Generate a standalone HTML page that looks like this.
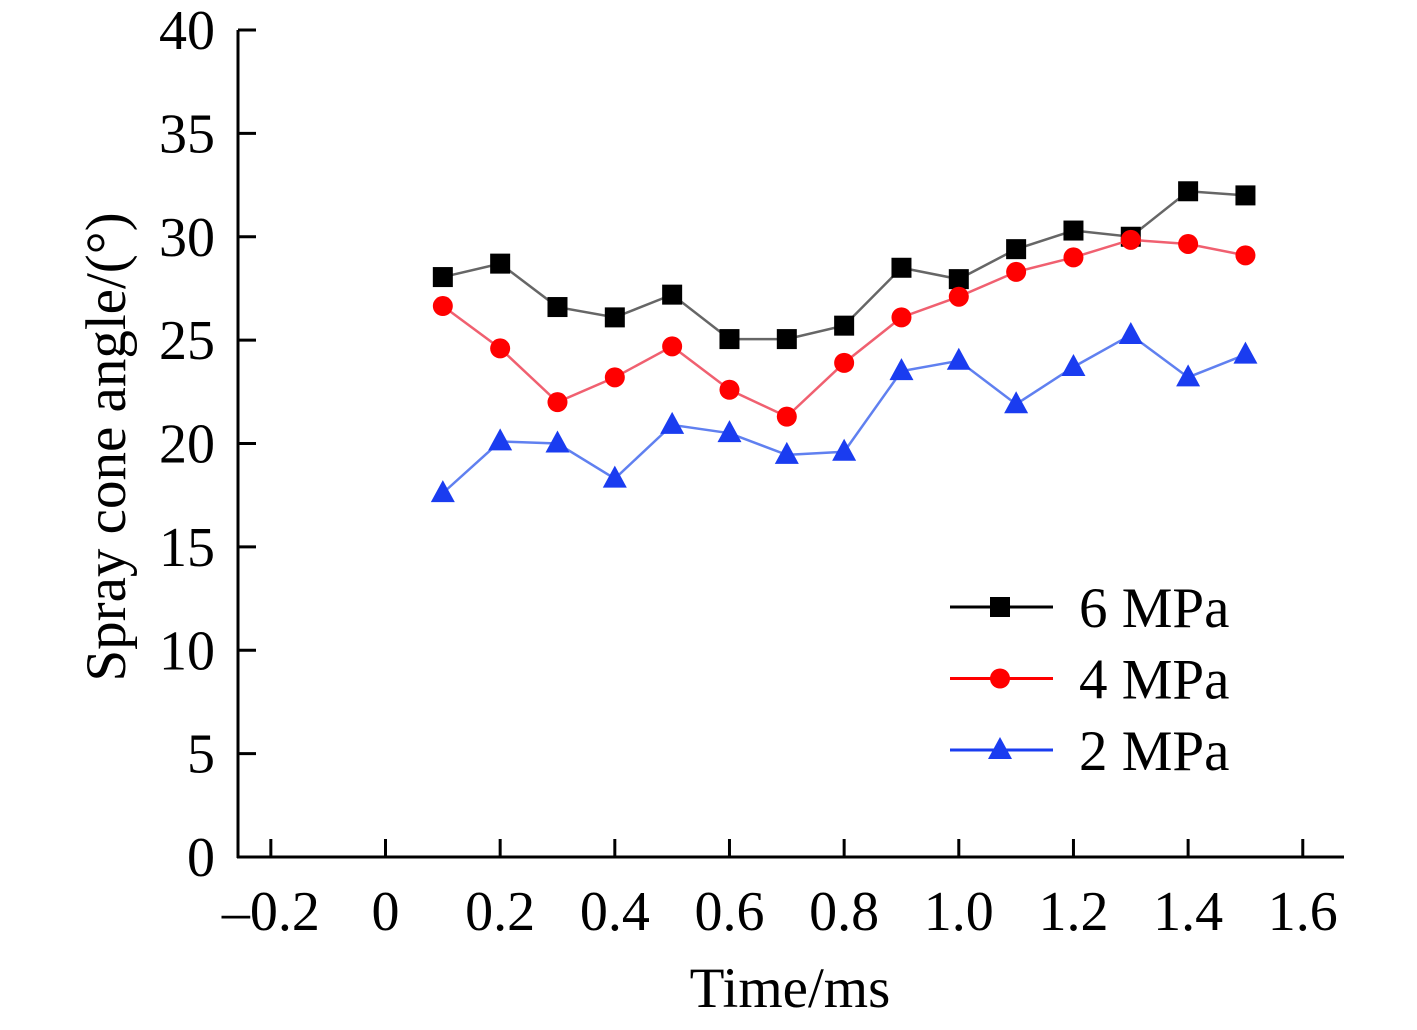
<!DOCTYPE html>
<html><head><meta charset="utf-8"><style>
body{margin:0;background:#fff}
svg text{font-family:"Liberation Serif",serif;fill:#000}
</style></head><body>
<svg id="chart" width="1417" height="1025" viewBox="0 0 1417 1025" xmlns="http://www.w3.org/2000/svg">
<g id="axes"></g>
<g id="series"></g>
<g id="legend"></g>
<text transform="translate(125,447) rotate(-90)" text-anchor="middle" font-size="57">Spray cone angle/(°)</text>
<text x="790" y="1007" text-anchor="middle" font-size="57">Time/ms</text>
</svg>
<script>
const times=[0.1,0.2,0.3,0.4,0.5,0.6,0.7,0.8,0.9,1.0,1.1,1.2,1.3,1.4,1.5];
const p6=[28.05,28.7,26.6,26.1,27.2,25.05,25.05,25.7,28.5,27.95,29.4,30.3,30.0,32.2,32.0];
const p4=[26.65,24.6,22.0,23.2,24.7,22.6,21.3,23.9,26.1,27.1,28.3,29.0,29.85,29.65,29.1];
const p2=[17.6,20.1,20.0,18.3,20.9,20.5,19.45,19.6,23.5,24.0,21.9,23.7,25.25,23.2,24.3];
const xTicks=[-0.2,0,0.2,0.4,0.6,0.8,1.0,1.2,1.4,1.6];
const xTickLabels=["\u20130.2","0","0.2","0.4","0.6","0.8","1.0","1.2","1.4","1.6"];
const yTicks=[0,5,10,15,20,25,30,35,40];
const seriesNames=["6 MPa","4 MPa","2 MPa"];

const NS="http://www.w3.org/2000/svg";
const X=v=>385.5+v*573.3;
const Y=v=>857-v*20.675;
function mk(tag,attrs,parent){const e=document.createElementNS(NS,tag);for(const k in attrs)e.setAttribute(k,attrs[k]);parent.appendChild(e);return e;}
const axes=document.getElementById('axes');
let e=mk('line',{x1:238,y1:30,x2:238,y2:858,stroke:'#000','stroke-width':3},axes);


e=mk('line',{x1:237,y1:857,x2:1344,y2:857,stroke:'#000','stroke-width':3},axes);


yTicks.forEach(t=>{
  let l=mk('line',{x1:238,y1:Y(t),x2:256,y2:Y(t),stroke:'#000','stroke-width':3},axes);
  
  
  let tx=mk('text',{x:215,y:Y(t)+19,'text-anchor':'end','font-size':56},axes);
  tx.textContent=t;
  
  
});
xTicks.forEach((t,i)=>{
  let l=mk('line',{x1:X(t),y1:857,x2:X(t),y2:839,stroke:'#000','stroke-width':3},axes);
  
  
  let tx=mk('text',{x:X(t),y:930,'text-anchor':'middle','font-size':56},axes);
  tx.textContent=xTickLabels[i];
  
  
});
const sg=document.getElementById('series');
function marker(type,cx,cy,color,parent){
  let m;
  if(type==='sq') m=mk('rect',{x:cx-10,y:cy-10,width:20,height:20,fill:color},parent);
  else if(type==='ci') m=mk('circle',{cx:cx,cy:cy,r:10,fill:color},parent);
  else m=mk('polygon',{points:`${cx},${cy-13} ${cx-12},${cy+9} ${cx+12},${cy+9}`,fill:color},parent);
  return m;
}
const defs=[[p6,'#000','#666','sq','series-6mpa'],[p4,'#f00','#f06070','ci','series-4mpa'],[p2,'#1a3cf0','#6080f0','tr','series-2mpa']];
defs.forEach(([vals,mc,lc,type,name])=>{
  const g=mk('g',{},sg);
  
  
  const pl=mk('polyline',{points:vals.map((v,i)=>X(times[i])+','+Y(v)).join(' '),fill:'none',stroke:lc,'stroke-width':2.5},g);
  
  
  vals.forEach((v,i)=>{
    const m=marker(type,X(times[i]),Y(v),mc,g);
    
    
  });
});
const lg=document.getElementById('legend');
defs.forEach(([vals,mc,lc,type,name],i)=>{
  const y=607+i*71.5;
  const g=mk('g',{},lg);
  
  
  mk('line',{x1:950,y1:y,x2:1053,y2:y,stroke:mc,'stroke-width':3},g);
  marker(type,1000,y,mc,g);
  const t=mk('text',{x:1079,y:y+20,'font-size':57},g);
  t.textContent=seriesNames[i];
});
</script>
</body></html>
